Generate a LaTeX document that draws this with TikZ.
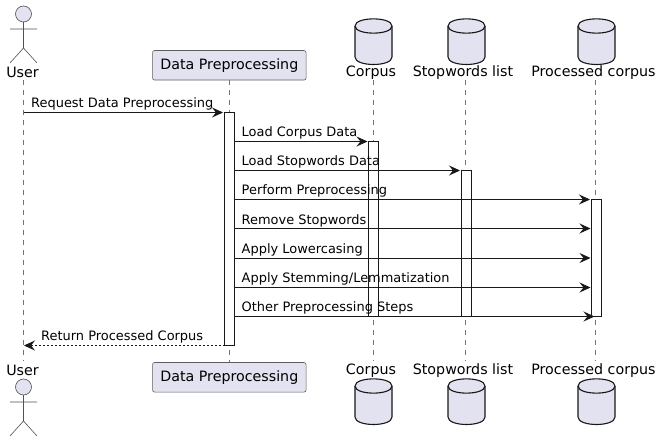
\documentclass[tikz,border=0pt]{standalone}
\usepackage{fontspec}
\setmainfont{DejaVu Sans}
\usetikzlibrary{arrows.meta}
\definecolor{partfill}{HTML}{E2E2F0}
\definecolor{ink}{HTML}{181818}
\tikzset{
  x=1pt,y=-1pt,
  lifeline/.style={draw=ink!60,line width=0.5pt,dash pattern=on 5pt off 5pt},
  actorline/.style={draw=ink!75,line width=0.6pt},
  actorhead/.style={actorline,fill=partfill},
  partbox/.style={draw=ink!70,line width=0.6pt,fill=partfill,rounded corners=2pt,minimum width=153.5pt,minimum height=29.5pt,inner sep=0pt,font=\fontsize{14.25}{16}\selectfont},
  partlabel/.style={inner sep=0pt,font=\fontsize{14.25}{16}\selectfont},
  msglabel/.style={inner sep=0pt,anchor=base west,font=\fontsize{12.95}{15}\selectfont},
  actbar/.style={draw=ink,line width=0.9pt,fill=white,minimum width=10pt,inner sep=0pt,anchor=north},
  msg/.style={draw=ink,line width=0.9pt,-{Stealth[length=11pt,width=10pt,inset=4pt,fill=ink]}},
  reply/.style={msg,dash pattern=on 2pt off 2pt,-{Stealth[length=11pt,width=10pt,inset=4pt,fill=ink]}},
  dbshape/.style={draw=ink,line width=1.1pt,fill=partfill},
  pics/dbcyl/.style={code={
    \path[dbshape] (-18.5,7) .. controls (-18.5,-2.5) and (18.5,-2.5) .. (18.5,7)
      -- (18.5,38) .. controls (18.5,48) and (-18.5,48) .. (-18.5,38) -- cycle;
    \path[dbshape,fill=none] (-18.5,7) .. controls (-18.5,16.5) and (18.5,16.5) .. (18.5,7);
  }},
  pics/stick/.style={code={
    \path[actorhead] (0,0) circle[radius=8];
    \path[actorline] (0,8) -- (0,34) (-13.5,15) -- (13.5,15) (-13.5,49) -- (0,34) -- (13.5,49);
  }}
}
\newcommand{\actbarnode}[4]{\node[actbar,minimum height=#4pt] (#1) at (#2,#3) {};}
\begin{document}
\begin{tikzpicture}
\useasboundingbox (0,0) rectangle (661,443);
\fill[white] (0,0) rectangle (661,443);
% lifeline ends
\coordinate (uT) at (23.5,80); \coordinate (uB) at (23.5,361);
\coordinate (dT) at (229.5,80); \coordinate (dB) at (229.5,362);
\coordinate (cT) at (373.5,80); \coordinate (cB) at (373.5,361);
\coordinate (sT) at (465.5,80); \coordinate (sB) at (465.5,361);
\coordinate (pT) at (595.5,80); \coordinate (pB) at (595.5,361);
\draw[lifeline] (uT) -- (uB);
\draw[lifeline] (dT) -- (dB);
\draw[lifeline] (cT) -- (cB);
\draw[lifeline] (sT) -- (sB);
\draw[lifeline] (pT) -- (pB);
% participants top
\pic at (23.5,14) {stick};
\node[partlabel] (userT) at (22.5,72.7) {User};
\node[partbox,text height=10.5pt,text depth=3pt] (dataT) at (229.3,65.3) {Data Preprocessing};
\pic at (373.5,19) {dbcyl};
\node[partlabel] (corpT) at (371,72.7) {Corpus};
\pic at (466.5,19) {dbcyl};
\node[partlabel] (stopT) at (463,72.7) {Stopwords list};
\pic at (596.5,19) {dbcyl};
\node[partlabel] (procT) at (593.5,72.7) {Processed corpus};
% participants bottom
\node[partlabel] (userB) at (22.5,370.3) {User};
\pic at (23.5,387) {stick};
\node[partbox,text height=10.5pt,text depth=3pt] (dataB) at (229.3,377.3) {Data Preprocessing};
\node[partlabel] (corpB) at (371,370.3) {Corpus};
\pic at (373.5,379) {dbcyl};
\node[partlabel] (stopB) at (463,370.3) {Stopwords list};
\pic at (466.5,379) {dbcyl};
\node[partlabel] (procB) at (593.5,370.3) {Processed corpus};
\pic at (596.5,379) {dbcyl};
% activations
\actbarnode{aD}{229.5}{112.5}{233}
\actbarnode{aC}{373.5}{141.5}{175}
\actbarnode{aS}{466}{170.5}{146}
\actbarnode{aP}{596.5}{199.5}{117}
% messages
\coordinate (u1) at (23.5,112.5);
\coordinate (t1) at (223,112.5);
\draw[msg] (u1) -- (t1);
\node[msglabel] (l1) at (31,107.7) {Request Data Preprocessing};
\coordinate (f2) at (234.5,141.5); \coordinate (t2) at (367.5,141.5);
\draw[msg] (f2) -- (t2);
\node[msglabel] (l2) at (241.5,136.7) {Load Corpus Data};
\coordinate (f3) at (234.5,170.5); \coordinate (t3) at (460,170.5);
\draw[msg] (f3) -- (t3);
\node[msglabel] (l3) at (241.5,165.7) {Load Stopwords Data};
\coordinate (f4) at (234.5,199.5); \coordinate (t4) at (590,199.5);
\draw[msg] (f4) -- (t4);
\node[msglabel] (l4) at (241.5,194.7) {Perform Preprocessing};
\coordinate (f5) at (234.5,228.5); \coordinate (t5) at (590.5,228.5);
\draw[msg] (f5) -- (t5);
\node[msglabel] (l5) at (241.5,224.2) {Remove Stopwords};
\coordinate (f6) at (234.5,258); \coordinate (t6) at (590.5,258);
\draw[msg] (f6) -- (t6);
\node[msglabel] (l6) at (241.5,253.7) {Apply Lowercasing};
\coordinate (f7) at (234.5,287.5); \coordinate (t7) at (590.5,287.5);
\draw[msg] (f7) -- (t7);
\node[msglabel] (l7) at (241.5,282.7) {Apply Stemming/Lemmatization};
\coordinate (f8) at (234.5,316.5); \coordinate (t8) at (594.5,316.5);
\draw[msg] (f8) -- (t8);
\node[msglabel] (l8) at (241.5,311.7) {Other Preprocessing Steps};
\coordinate (f9) at (224.5,345.5); \coordinate (t9) at (24,345.5);
\draw[reply] (f9) -- (t9);
\node[msglabel] (l9) at (41,340.7) {Return Processed Corpus};
\end{tikzpicture}
\end{document}
